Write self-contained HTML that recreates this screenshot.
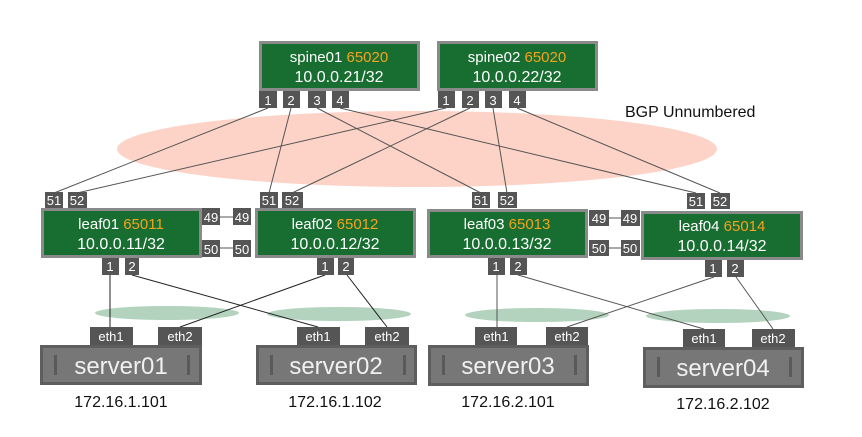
<!DOCTYPE html>
<html><head><meta charset="utf-8"><style>
body{margin:0;background:#fff}
svg{display:block}
text{font-family:"Liberation Sans",sans-serif}
</style></head><body>
<svg width="862" height="437" viewBox="0 0 862 437" xmlns="http://www.w3.org/2000/svg">
<ellipse cx="417" cy="149" rx="300" ry="38" fill="#fdd3c7"/>
<ellipse cx="167" cy="313" rx="72" ry="7" fill="#b4d3bf"/>
<ellipse cx="339" cy="314" rx="72" ry="7" fill="#b4d3bf"/>
<ellipse cx="537" cy="315" rx="72" ry="7" fill="#b4d3bf"/>
<ellipse cx="718" cy="316" rx="72" ry="7" fill="#b4d3bf"/>
<text x="625" y="117" font-size="16" fill="#111">BGP Unnumbered</text>
<g stroke="#555" stroke-width="1" fill="none">
<line x1="268" y1="108" x2="54" y2="193"/>
<line x1="291" y1="108" x2="269" y2="193"/>
<line x1="317" y1="108" x2="481" y2="193"/>
<line x1="340" y1="108" x2="696" y2="193"/>
<line x1="446" y1="108" x2="77" y2="193"/>
<line x1="470" y1="108" x2="292" y2="193"/>
<line x1="493" y1="108" x2="507" y2="193"/>
<line x1="517" y1="108" x2="720" y2="193"/>
<line x1="220" y1="217" x2="233" y2="217"/>
<line x1="220" y1="248" x2="233" y2="248"/>
<line x1="609" y1="218" x2="621" y2="218"/>
<line x1="609" y1="248" x2="621" y2="248"/>
<line x1="110" y1="275" x2="110" y2="327" stroke="#222"/>
<line x1="132" y1="275" x2="318" y2="327" stroke="#222"/>
<line x1="325" y1="275" x2="180" y2="327" stroke="#222"/>
<line x1="347" y1="275" x2="387" y2="327" stroke="#222"/>
<line x1="497" y1="275" x2="497" y2="327"/>
<line x1="518" y1="275" x2="704" y2="329"/>
<line x1="714" y1="277" x2="567" y2="327"/>
<line x1="736" y1="277" x2="773" y2="329"/>
</g>
<g fill="#555">
<rect x="259" y="91" width="18" height="17"/><rect x="283" y="91" width="17" height="17"/><rect x="308" y="91" width="18" height="17"/><rect x="332" y="91" width="17" height="17"/>
<rect x="438" y="91" width="17" height="17"/><rect x="462" y="91" width="17" height="17"/><rect x="485" y="91" width="17" height="17"/><rect x="509" y="91" width="17" height="17"/>
<rect x="45" y="192" width="18" height="16"/><rect x="68" y="192" width="19" height="16"/>
<rect x="260" y="192" width="18" height="16"/><rect x="282" y="192" width="21" height="16"/>
<rect x="472" y="192" width="18" height="16"/><rect x="498" y="192" width="19" height="16"/>
<rect x="687" y="193" width="18" height="16"/><rect x="711" y="193" width="19" height="16"/>
<rect x="202" y="208" width="18" height="17"/><rect x="233" y="208" width="18" height="17"/>
<rect x="202" y="240" width="18" height="17"/><rect x="233" y="240" width="18" height="17"/>
<rect x="589" y="210" width="20" height="16"/><rect x="621" y="210" width="19" height="16"/>
<rect x="589" y="240" width="20" height="16"/><rect x="621" y="240" width="19" height="16"/>
<rect x="102" y="257" width="17" height="18"/><rect x="125" y="257" width="14" height="18"/>
<rect x="317" y="257" width="17" height="18"/><rect x="338" y="257" width="16" height="18"/>
<rect x="488" y="257" width="17" height="18"/><rect x="510" y="257" width="17" height="18"/>
<rect x="705" y="259" width="17" height="18"/><rect x="727" y="259" width="17" height="18"/>
<rect x="90" y="327" width="43" height="18"/><rect x="158" y="327" width="44" height="18"/>
<rect x="297" y="327" width="43" height="18"/><rect x="365" y="327" width="44" height="18"/>
<rect x="475" y="327" width="42" height="18"/><rect x="546" y="327" width="42" height="18"/>
<rect x="683" y="329" width="42" height="18"/><rect x="752" y="329" width="43" height="18"/>
</g>
<g fill="#fff" font-size="13" text-anchor="middle">
<text x="268" y="105">1</text><text x="291" y="105">2</text><text x="317" y="105">3</text><text x="340" y="105">4</text>
<text x="446" y="105">1</text><text x="470" y="105">2</text><text x="493" y="105">3</text><text x="517" y="105">4</text>
<text x="54" y="205">51</text><text x="77" y="205">52</text>
<text x="269" y="205">51</text><text x="292" y="205">52</text>
<text x="481" y="205">51</text><text x="507" y="205">52</text>
<text x="696" y="206">51</text><text x="720" y="206">52</text>
<text x="211" y="222">49</text><text x="242" y="222">49</text>
<text x="211" y="254">50</text><text x="242" y="254">50</text>
<text x="599" y="223">49</text><text x="630" y="223">49</text>
<text x="599" y="253">50</text><text x="630" y="253">50</text>
<text x="110" y="271">1</text><text x="132" y="271">2</text>
<text x="325" y="271">1</text><text x="346" y="271">2</text>
<text x="496" y="271">1</text><text x="518" y="271">2</text>
<text x="713" y="273">1</text><text x="735" y="273">2</text>
<text x="111" y="341">eth1</text><text x="180" y="341">eth2</text>
<text x="318" y="341">eth1</text><text x="387" y="341">eth2</text>
<text x="496" y="341">eth1</text><text x="567" y="341">eth2</text>
<text x="704" y="343">eth1</text><text x="773" y="343">eth2</text>
</g>
<g fill="#186d30" stroke="#8a8a8a" stroke-width="3">
<rect x="260.5" y="42.5" width="158" height="47"/>
<rect x="438.5" y="42.5" width="158" height="47"/>
<rect x="42.5" y="209.5" width="158" height="47"/>
<rect x="256.5" y="209.5" width="158" height="47"/>
<rect x="428.5" y="210.5" width="158" height="46"/>
<rect x="642.5" y="212.5" width="159" height="46"/>
</g>
<g font-size="15" text-anchor="middle" fill="#fff">
<text x="339" y="62">spine01 <tspan fill="#f5a31c">65020</tspan></text><text x="339" y="82" font-size="16">10.0.0.21/32</text>
<text x="517" y="62">spine02 <tspan fill="#f5a31c">65020</tspan></text><text x="517" y="82" font-size="16">10.0.0.22/32</text>
<text x="121" y="229">leaf01 <tspan fill="#f5a31c">65011</tspan></text><text x="121" y="249" font-size="16">10.0.0.11/32</text>
<text x="335" y="229">leaf02 <tspan fill="#f5a31c">65012</tspan></text><text x="335" y="249" font-size="16">10.0.0.12/32</text>
<text x="507" y="229">leaf03 <tspan fill="#f5a31c">65013</tspan></text><text x="507" y="249" font-size="16">10.0.0.13/32</text>
<text x="722" y="231">leaf04 <tspan fill="#f5a31c">65014</tspan></text><text x="722" y="251" font-size="16">10.0.0.14/32</text>
</g>
<g>
<g fill="#777" stroke="#5e5e5e" stroke-width="3">
<rect x="41.5" y="346.5" width="159" height="37"/>
<rect x="257.5" y="346.5" width="158" height="37"/>
<rect x="429.5" y="346.5" width="158" height="38"/>
<rect x="644.5" y="348.5" width="158" height="38"/>
</g>
<g fill="#5a5a5a">
<rect x="54" y="355" width="3" height="20"/><rect x="187" y="355" width="3" height="20"/>
<rect x="270" y="355" width="3" height="20"/><rect x="403" y="355" width="3" height="20"/>
<rect x="442" y="355" width="3" height="20"/><rect x="574" y="355" width="3" height="20"/>
<rect x="657" y="357" width="3" height="20"/><rect x="789" y="357" width="3" height="20"/>
</g>
<g font-size="24" fill="#f0f0f0" text-anchor="middle">
<text x="121" y="374">server01</text>
<text x="336" y="374">server02</text>
<text x="508" y="374">server03</text>
<text x="723" y="376">server04</text>
</g>
</g>
<g font-size="16" fill="#111" text-anchor="middle">
<text x="121" y="407">172.16.1.101</text>
<text x="335" y="407">172.16.1.102</text>
<text x="508" y="407">172.16.2.101</text>
<text x="723" y="409">172.16.2.102</text>
</g>
</svg>
</body></html>
